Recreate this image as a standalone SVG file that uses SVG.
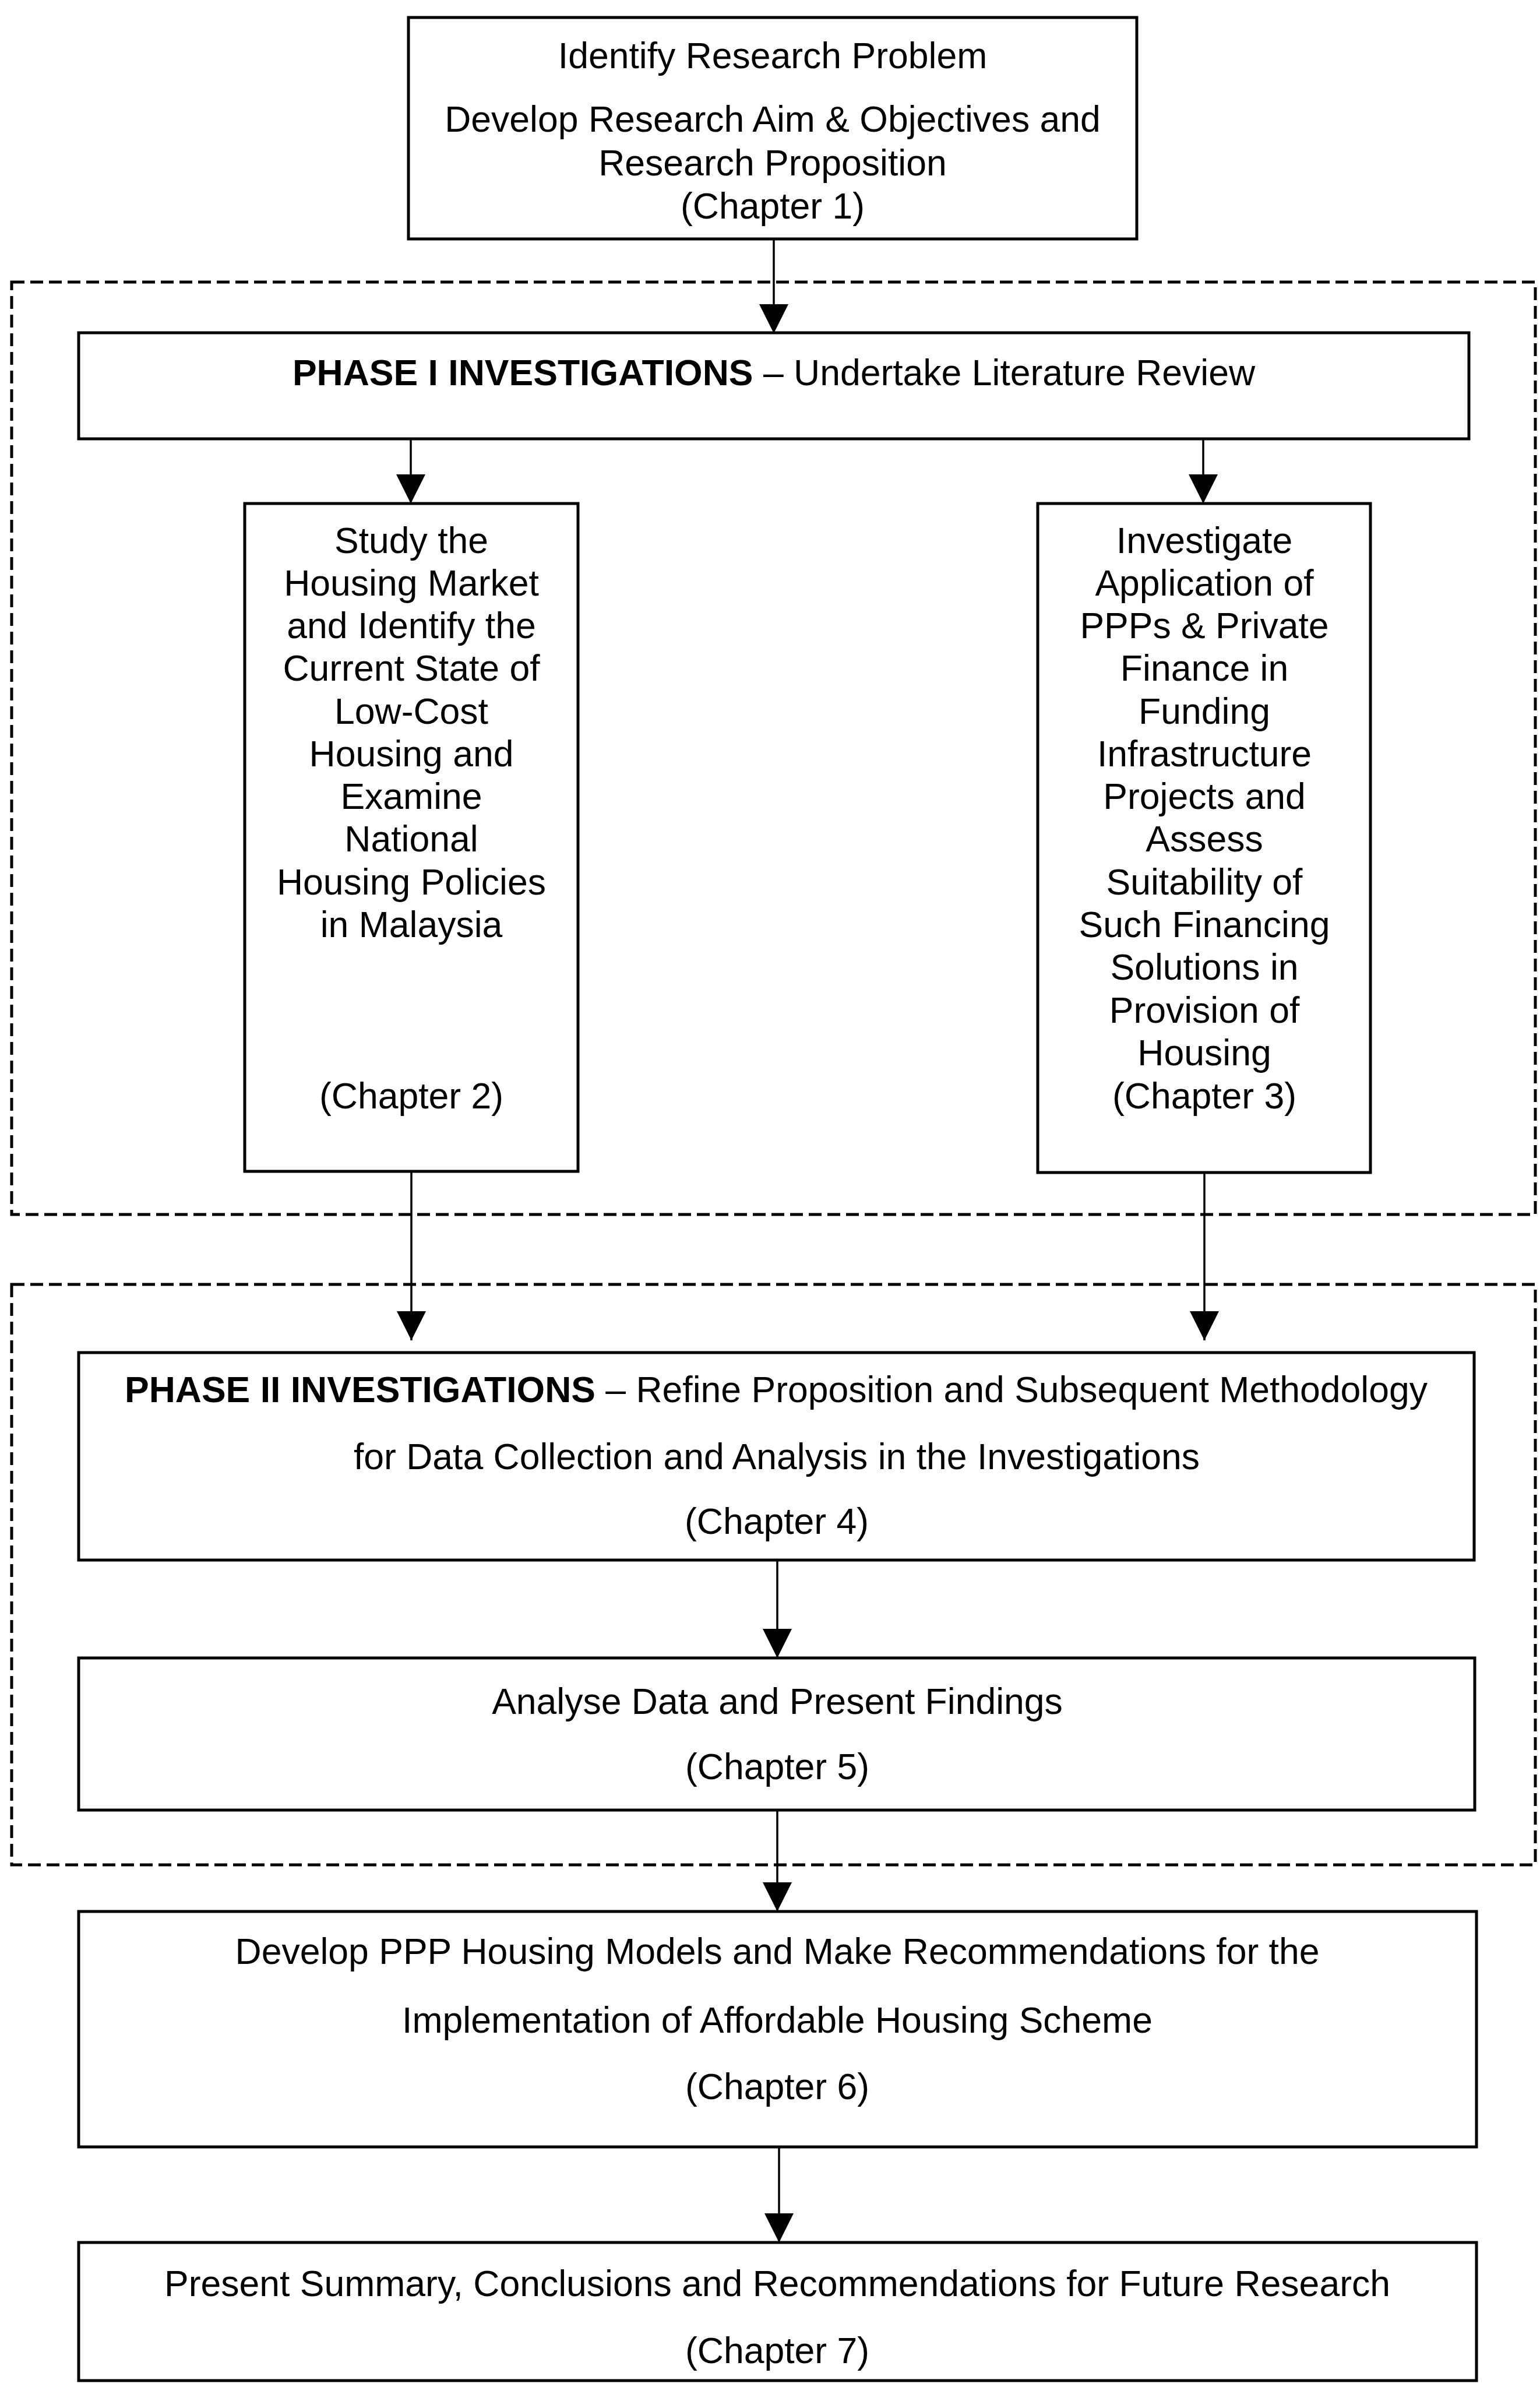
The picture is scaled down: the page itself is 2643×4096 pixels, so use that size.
<svg xmlns="http://www.w3.org/2000/svg" width="2643" height="4096" viewBox="0 0 2643 4096">
<style>
.box{fill:#fff;stroke:#000;stroke-width:5}
.grp{fill:none;stroke:#000;stroke-width:5;stroke-dasharray:22 10}
.con{fill:none;stroke:#000;stroke-width:3.5}
text{font-family:"Liberation Sans",Arial,sans-serif;font-size:62.5px;fill:#000;text-anchor:middle}
.b{font-weight:bold}
</style>
<defs>
<marker id="ah" viewBox="0 0 50 50" refX="50" refY="25" markerWidth="50" markerHeight="50" markerUnits="userSpaceOnUse" orient="auto">
<path d="M0,0 L50,25 L0,50 Z" fill="#000"/>
</marker>
</defs>
<rect width="2643" height="4096" fill="#fff"/>

<g id="phase1-group"><rect class="grp" x="20" y="484" width="2615" height="1600"/></g>
<g id="phase2-group"><rect class="grp" x="20" y="2204" width="2615" height="996"/></g>

<g id="connectors">
<line class="con" x1="1328" y1="410" x2="1328" y2="572" marker-end="url(#ah)"/>
<line class="con" x1="705" y1="753" x2="705" y2="864" marker-end="url(#ah)"/>
<line class="con" x1="2065" y1="753" x2="2065" y2="864" marker-end="url(#ah)"/>
<line class="con" x1="706" y1="2010" x2="706" y2="2300" marker-end="url(#ah)"/>
<line class="con" x1="2067" y1="2012" x2="2067" y2="2300" marker-end="url(#ah)"/>
<line class="con" x1="1334" y1="2677" x2="1334" y2="2845" marker-end="url(#ah)"/>
<line class="con" x1="1334" y1="3106" x2="1334" y2="3280" marker-end="url(#ah)"/>
<line class="con" x1="1337" y1="3684" x2="1337" y2="3848" marker-end="url(#ah)"/>
</g>

<g id="n-ch1">
<rect class="box" x="701" y="30" width="1250" height="380"/>
<text x="1326" y="117">Identify Research Problem</text>
<text x="1326" y="226">Develop Research Aim &amp; Objectives and</text>
<text x="1326" y="301">Research Proposition</text>
<text x="1326" y="375">(Chapter 1)</text>
</g>

<g id="n-phase1">
<rect class="box" x="135" y="571" width="2386" height="182"/>
<text x="1328" y="661"><tspan class="b">PHASE I INVESTIGATIONS</tspan> – Undertake Literature Review</text>
</g>

<g id="n-ch2">
<rect class="box" x="420" y="864" width="572" height="1146"/>
<text x="706" y="949">Study the</text>
<text x="706" y="1022">Housing Market</text>
<text x="706" y="1095">and Identify the</text>
<text x="706" y="1168">Current State of</text>
<text x="706" y="1242">Low-Cost</text>
<text x="706" y="1315">Housing and</text>
<text x="706" y="1388">Examine</text>
<text x="706" y="1461">National</text>
<text x="706" y="1535">Housing Policies</text>
<text x="706" y="1608">in Malaysia</text>
<text x="706" y="1902">(Chapter 2)</text>
</g>

<g id="n-ch3">
<rect class="box" x="1781" y="864" width="571" height="1148"/>
<text x="2067" y="949">Investigate</text>
<text x="2067" y="1022">Application of</text>
<text x="2067" y="1095">PPPs &amp; Private</text>
<text x="2067" y="1168">Finance in</text>
<text x="2067" y="1242">Funding</text>
<text x="2067" y="1315">Infrastructure</text>
<text x="2067" y="1388">Projects and</text>
<text x="2067" y="1461">Assess</text>
<text x="2067" y="1535">Suitability of</text>
<text x="2067" y="1608">Such Financing</text>
<text x="2067" y="1681">Solutions in</text>
<text x="2067" y="1755">Provision of</text>
<text x="2067" y="1828">Housing</text>
<text x="2067" y="1902">(Chapter 3)</text>
</g>

<g id="n-ch4">
<rect class="box" x="135" y="2321" width="2395" height="356"/>
<text x="1332" y="2406"><tspan class="b">PHASE II INVESTIGATIONS</tspan> – Refine Proposition and Subsequent Methodology</text>
<text x="1333" y="2521">for Data Collection and Analysis in the Investigations</text>
<text x="1333" y="2632">(Chapter 4)</text>
</g>

<g id="n-ch5">
<rect class="box" x="135" y="2845" width="2396" height="261"/>
<text x="1334" y="2941">Analyse Data and Present Findings</text>
<text x="1334" y="3053">(Chapter 5)</text>
</g>

<g id="n-ch6">
<rect class="box" x="135" y="3280" width="2399" height="404"/>
<text x="1334" y="3370">Develop PPP Housing Models and Make Recommendations for the</text>
<text x="1334" y="3488">Implementation of Affordable Housing Scheme</text>
<text x="1334" y="3602">(Chapter 6)</text>
</g>

<g id="n-ch7">
<rect class="box" x="135" y="3848" width="2399" height="237"/>
<text x="1334" y="3940">Present Summary, Conclusions and Recommendations for Future Research</text>
<text x="1334" y="4055">(Chapter 7)</text>
</g>
</svg>
